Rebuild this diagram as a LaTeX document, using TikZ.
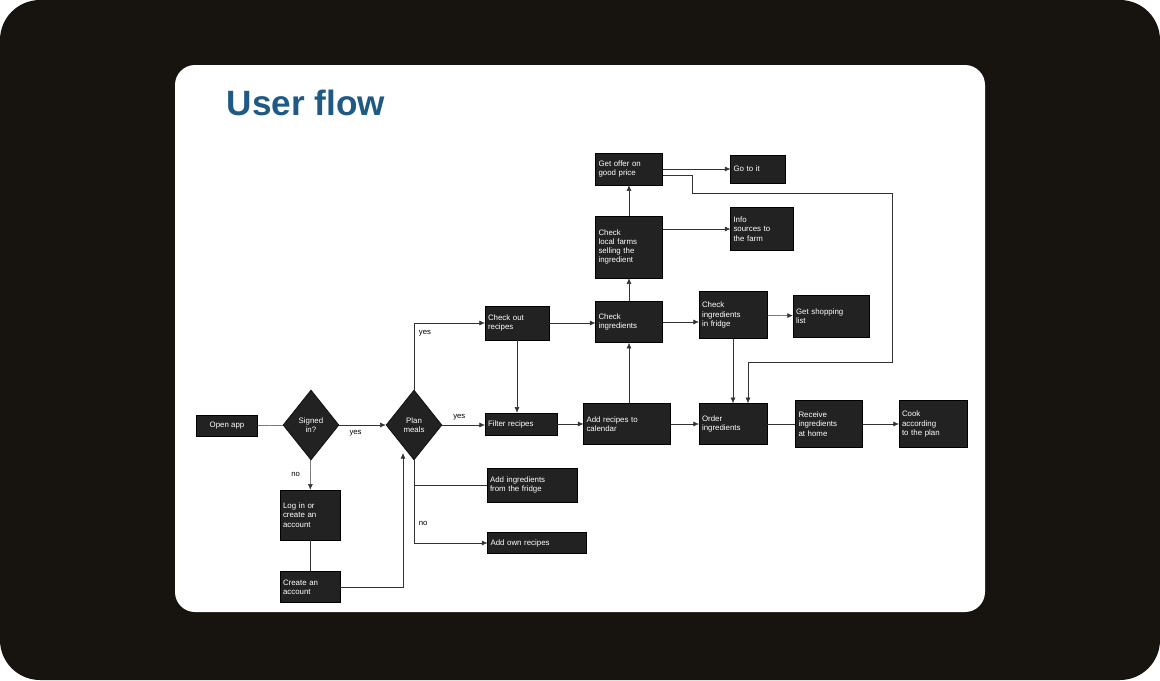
\documentclass[tikz,border=0pt]{standalone}
\usepackage{fontspec}
\setmainfont{Liberation Sans}
\usetikzlibrary{shapes.geometric,arrows.meta}
\definecolor{bgdark}{HTML}{17140F}
\definecolor{titleblue}{HTML}{1F5A85}
\definecolor{boxfill}{HTML}{222222}
\tikzset{
    box/.style={draw=black, fill=boxfill, text=white, align=left, inner sep=2pt,
        font=\fontsize{5.6}{6.6}\selectfont},
    choice/.style={diamond, draw=black, fill=boxfill, text=white, align=center,
        inner sep=0pt, minimum width=56*0.025cm, minimum height=70*0.025cm,
        font=\fontsize{5.6}{6.6}\selectfont},
    flow/.style={draw=black!80, line width=0.35pt, -{Latex[length=4pt,width=3.5pt]}},
    link/.style={draw=black!80, line width=0.35pt},
    tag/.style={font=\fontsize{5.5}{6}\selectfont, text=black}
}
\begin{document}
\begin{tikzpicture}[x=0.025cm, y=-0.025cm]

    % Background and card.
    \fill[bgdark, rounded corners=40*0.025cm] (0,0) rectangle (1160,680);
    \fill[white, rounded corners=20*0.025cm] (175,65) rectangle (985,612);
    \useasboundingbox (0,0) rectangle (1160,680);

    % Title.
    \node[anchor=west, text=titleblue, font=\bfseries\fontsize{25}{28}\selectfont] (title) at (222,103) {User flow};

    % Left part.
    \node[box, minimum width=61*0.025cm, minimum height=21*0.025cm] (open) at (227,426) {Open app};
    \node[choice] (signed) at (311,425) {Signed\\in?};
    \node[choice] (plan) at (414,425) {Plan\\meals};
    \node[box, text width=54*0.025cm, minimum height=50*0.025cm] (login) at (310,515) {Log in or\\create an\\account};
    \node[box, text width=54*0.025cm, minimum height=31*0.025cm] (create) at (310,587) {Create an\\account};

    % Recipes.
    \node[box, text width=58*0.025cm, minimum height=34*0.025cm] (checkout) at (517,323) {Check out\\recipes};
    \node[box, text width=66*0.025cm, minimum height=22*0.025cm] (filter) at (521,424) {Filter recipes};
    \node[box, text width=84*0.025cm, minimum height=34*0.025cm] (fridge) at (532,485) {Add ingredients\\from the fridge};
    \node[box, text width=93*0.025cm, minimum height=21*0.025cm] (own) at (537,543) {Add own recipes};
    \node[box, text width=81*0.025cm, minimum height=41*0.025cm] (calendar) at (627,424) {Add recipes to\\calendar};

    % Ingredients.
    \node[box, text width=61*0.025cm, minimum height=41*0.025cm] (checking) at (629,322) {Check\\ingredients};
    \node[box, text width=61*0.025cm, minimum height=62*0.025cm] (farms) at (629,247) {Check\\local farms\\selling the\\ingredient};
    \node[box, text width=61*0.025cm, minimum height=32*0.025cm] (offer) at (629,169) {Get offer on\\good price};
    \node[box, text width=49*0.025cm, minimum height=28*0.025cm] (goto) at (758,169) {Go to it};
    \node[box, text width=57*0.025cm, minimum height=43*0.025cm] (info) at (762,229) {Info\\sources to\\the farm};
    \node[box, text width=62*0.025cm, minimum height=47*0.025cm] (infridge) at (733,315) {Check\\ingredients\\in fridge};
    \node[box, text width=70*0.025cm, minimum height=42*0.025cm] (shopping) at (831,316) {Get shopping\\list};
    \node[box, text width=62*0.025cm, minimum height=41*0.025cm] (order) at (733,424) {Order\\ingredients};
    \node[box, text width=61*0.025cm, minimum height=47*0.025cm] (receive) at (829,424) {Receive\\ingredients\\at home};
    \node[box, text width=62*0.025cm, minimum height=47*0.025cm] (cook) at (933,424) {Cook\\according\\to the plan};

    % Helper points.
    \coordinate (joinup) at (403,453);
    \coordinate (split) at (414,485);
    \coordinate (loopout) at (692,175);
    \coordinate (loopin) at (748,362);

    % Connectors.
    \draw[link] (open) -- (signed);
    \draw[flow] (signed) -- node[tag, below, pos=0.35] {yes} (plan);
    \draw[flow] (signed) -- node[tag, left, pos=0.5, xshift=-4pt] {no} (login);
    \draw[link] (login) -- (create);
    \draw[flow] (create.east) -| (joinup);
    \draw[flow] (plan.north) |- node[tag, right, pos=0.42] {yes} (checkout.west);
    \draw[flow] (plan) -- node[tag, above, pos=0.4] {yes} (plan -| filter.west);
    \draw[flow] (plan.south) |- node[tag, right, pos=0.38] {no} (own.west);
    \draw[link] (split) -- (fridge.west);
    \draw[flow] (checkout) -- (checkout |- filter.north);
    \draw[flow] (checkout) -- (checkout -| checking.west);
    \draw[flow] (filter) -- (calendar);
    \draw[flow] (calendar) -- (order);
    \draw[link] (order) -- (receive);
    \draw[flow] (receive) -- (cook);
    \draw[flow] (calendar.north -| checking) -- (checking);
    \draw[flow] (checking) -- (farms);
    \draw[flow] (farms) -- (offer);
    \draw[flow] (farms.east |- info) -- (info);
    \draw[flow] (offer) -- (goto);
    \draw[flow] (offer.east |- loopout) -- (loopout) -- (692,193) -| (892,362) -| (order.north -| loopin);
    \draw[flow] (checking) -- (checking -| infridge.west);
    \draw[flow] (infridge) -- (shopping);
    \draw[flow] (infridge) -- (order);
\end{tikzpicture}
\end{document}
